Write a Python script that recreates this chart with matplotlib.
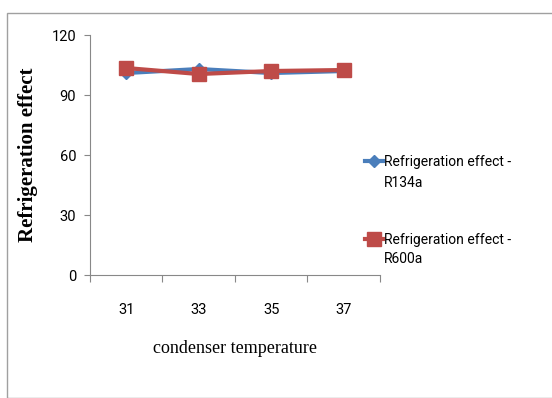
import matplotlib.pyplot as plt
import numpy as np
from matplotlib.patches import Rectangle

temps = ["31", "33", "35", "37"]
r134a = [101, 103, 101, 102]
r600a = [103.5, 100.5, 102, 102.5]
y_ticks = [0, 30, 60, 90, 120]
series_names = ["R134a", "R600a"]

narrow = ['Roboto', 'DejaVu Sans']

fig = plt.figure(figsize=(5.52, 3.98), dpi=100)
ax = fig.add_axes([0.163, 0.309, 0.525, 0.603])

# outer chart frame
fig.patches.append(Rectangle((7 / 552, 0), 1.0, 1 - 13 / 398, transform=fig.transFigure,
                             fill=False, edgecolor='#a0a0a0', linewidth=1.0))

x = np.arange(len(temps))
l1, = ax.plot(x, r134a, color='#4a7ebb', linewidth=3, marker='D', markersize=6)
l2, = ax.plot(x, r600a, color='#be4b48', linewidth=3, marker='s', markersize=10)

ax.set_xlim(-0.5, len(temps) - 0.5)
ax.set_ylim(0, 120)
ax.set_yticks(y_ticks)
ax.set_xticks(np.arange(-0.5, len(temps), 1.0))
ax.set_xticklabels([])
ax.set_xticks(x, minor=True)
ax.set_xticklabels(temps, minor=True)
ax.tick_params(axis='x', which='minor', length=0, pad=20)
ax.tick_params(axis='x', which='major', length=5, color='#888888', direction='out')
ax.tick_params(axis='y', length=4, color='#888888', pad=6)
for lab in ax.get_yticklabels() + ax.get_xticklabels(minor=True):
    lab.set_fontfamily(narrow)
    lab.set_fontsize(10.5)

for s in ['top', 'right']:
    ax.spines[s].set_visible(False)
for s in ['left', 'bottom']:
    ax.spines[s].set_color('#888888')

ax.set_xlabel('condenser temperature', fontfamily='Liberation Serif', fontsize=13, labelpad=17)
ax.set_ylabel('Refrigeration effect', fontfamily='Liberation Serif', fontsize=15,
              fontweight='bold', labelpad=10)

# legend: handle sits on the first line, series name on the line below
leg = fig.legend(handles=[l1, l2], labels=['Refrigeration effect -'] * 2,
                 loc='upper left', bbox_to_anchor=(365 / 552, 1 - 155 / 398),
                 frameon=False, prop={'family': narrow, 'size': 10},
                 labelspacing=4.6, handlelength=1.3, handletextpad=0.1,
                 borderpad=0, borderaxespad=0)
for name, ypix in zip(series_names, [183, 259]):
    fig.text(384 / 552, 1 - ypix / 398, name, va='center', ha='left',
             fontfamily=narrow, fontsize=10)

fig.savefig('out.png', dpi=100)
